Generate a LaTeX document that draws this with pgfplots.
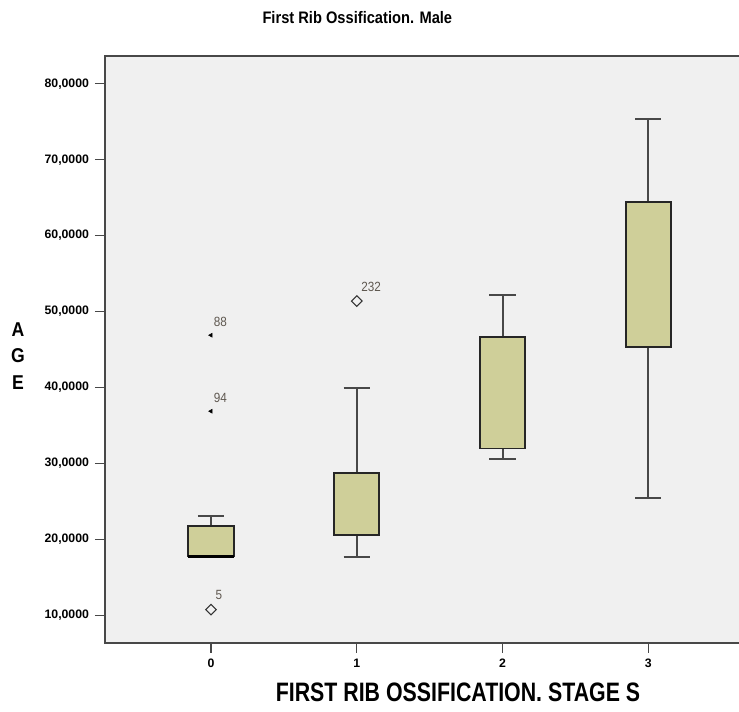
\documentclass[border=0pt]{standalone}
\usepackage{pgfplots}
\pgfplotsset{compat=1.18}
\usepgfplotslibrary{statistics}
\usepackage{fontspec}
\setmainfont{Liberation Sans}
\newfontfamily\narrow[FakeStretch=0.88]{Liberation Sans}
\newfontfamily\narrowx[FakeStretch=0.80]{Liberation Sans}
\definecolor{boxfill}{RGB}{207,207,153}
\definecolor{plotbg}{RGB}{240,240,240}
\definecolor{framec}{RGB}{72,72,72}
\definecolor{lblc}{RGB}{95,88,80}
\begin{document}
\begin{tikzpicture}
\path[use as bounding box] (0,0) rectangle (554.25pt,534pt);
\begin{axis}[
  at={(78.75pt,51.75pt)}, anchor=south west,
  scale only axis, width=487pt, height=440pt,
  xmin=-0.727, xmax=3.727, ymin=6.4, ymax=83.6,
  clip=false,
  axis background/.style={fill=plotbg},
  axis line style={framec, line width=1.4pt},
  xtick={0,1,2,3}, ytick={10,20,...,80},
  xtick pos=lower, ytick pos=left,
  tick align=outside, major tick length=7.5pt,
  tick style={framec, line width=0.9pt},
  /pgf/number format/assume math mode=true,
  yticklabel style={font=\bfseries\fontsize{9.2}{10}\selectfont, xshift=-1pt,
    /pgf/number format/.cd, fixed, fixed zerofill, precision=4, use comma, 1000 sep={}},
  xticklabel style={font=\bfseries\fontsize{9.2}{10}\selectfont, yshift=-1pt},
  boxplot/draw direction=y,
  boxplot/box extend=0.31,
  boxplot/whisker extend=0.18,
  boxplot/every box/.style={draw=black!85, fill=boxfill, line width=1.4pt},
  boxplot/every whisker/.style={draw=framec, line width=1.5pt},
  boxplot/every median/.style={draw=black!85, line width=1.4pt},
]
\addplot+[boxplot prepared={draw position=0, lower whisker=17.7, lower quartile=17.9,
  median=17.75, upper quartile=21.8, upper whisker=23.1,
  every median/.style={draw=black, line width=2.2pt}},
  draw=black, mark=none, solid, line width=1.4pt]
  coordinates {};
\addplot+[boxplot prepared={draw position=1, lower whisker=17.7, lower quartile=20.6,
  median=20.6, upper quartile=28.8, upper whisker=40.0},
  draw=black, mark=none, solid, line width=1.4pt]
  coordinates {};
\addplot+[boxplot prepared={draw position=2, lower whisker=30.6, lower quartile=32.0,
  median=32.0, upper quartile=46.7, upper whisker=52.2},
  draw=black, mark=none, solid, line width=1.4pt]
  coordinates {};
\addplot+[boxplot prepared={draw position=3, lower whisker=25.5, lower quartile=45.3,
  median=45.3, upper quartile=64.4, upper whisker=75.3},
  draw=black, mark=none, solid, line width=1.4pt]
  coordinates {};
% outliers (open diamonds)
\addplot[only marks, mark=square, mark size=2.8pt,
  mark options={draw=black!80, fill=plotbg, line width=0.8pt, rotate=45},
  nodes near coords, point meta=explicit symbolic,
  every node near coord/.style={anchor=south west, inner sep=1pt, xshift=2pt, yshift=6pt,
    font=\narrow\fontsize{10}{11}\selectfont, text=lblc}]
  coordinates {(0,10.8) [5] (1,51.4) [232]};
% extremes (small dark marks)
\addplot[only marks, mark=triangle*, mark size=1.7pt,
  mark options={draw=black, fill=black, rotate=90},
  nodes near coords, point meta=explicit symbolic,
  every node near coord/.style={anchor=south west, inner sep=1pt, xshift=1pt, yshift=5pt,
    font=\narrow\fontsize{10}{11}\selectfont, text=lblc}]
  coordinates {(0,46.9) [88] (0,36.9) [94]};
\end{axis}
\node[font=\narrow\bfseries\fontsize{12.5}{14}\selectfont] at (268pt,521pt) {First Rib Ossification. Male};
\node[font=\narrowx\bfseries\fontsize{20}{24}\selectfont] at (343.5pt,15pt) {FIRST RIB OSSIFICATION. STAGE S};
\node[font=\narrow\bfseries\fontsize{15}{20}\selectfont, align=center] at (13.5pt,267pt) {A\\G\\E};
\end{tikzpicture}
\end{document}
